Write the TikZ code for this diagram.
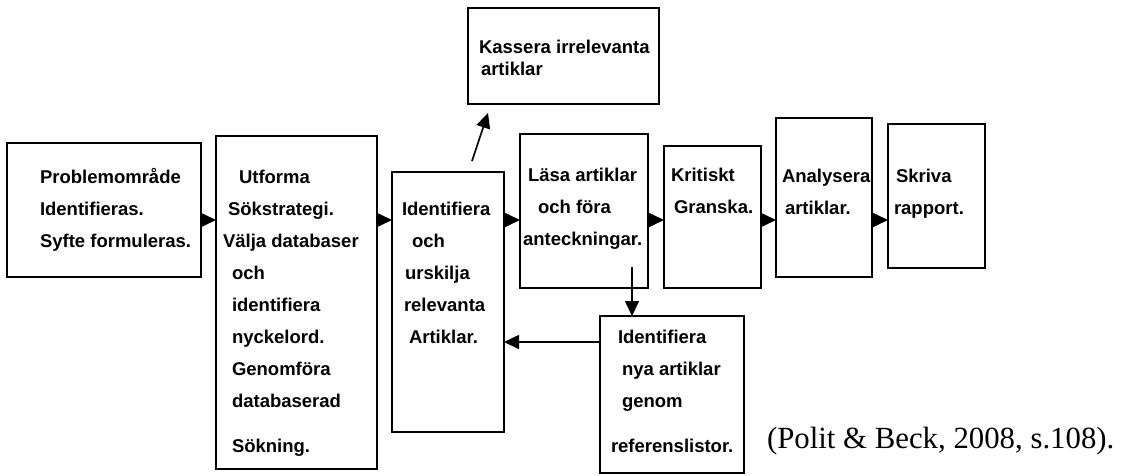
\documentclass[tikz,border=0pt]{standalone}
\usepackage{fontspec}
\setmainfont{Liberation Sans}
\newfontfamily\citefont{Liberation Serif}
\usepackage{tikz}
\usetikzlibrary {arrows.meta,
                 calc,
                 positioning}
\tikzset{
        base/.style={inner sep=0pt, outer sep=0pt},
        box/.style={base, draw, line width=1.6pt, anchor=north west},
        % texts are placed at the baseline of their last line
        txt/.style={base, align=left, anchor=base west,
                    font=\bfseries\fontsize{18.5}{32}\selectfont},
        cite/.style={base, anchor=base west,
                     font=\citefont\fontsize{30.8}{36}\selectfont},
        flowarrow/.style={-{Triangle[length=15pt, width=14pt]},
                          line width=1.6pt},
 }

\begin{document}
\begin{tikzpicture}[x=1pt, y=-1pt]
        \useasboundingbox (0,0) rectangle (1130,475);

        % boxes
        \node[box, minimum width=194pt, minimum height=134pt] (prob) at (7,143) {};
        \node[box, minimum width=161pt, minimum height=333pt] (strat) at (216,136) {};
        \node[box, minimum width=112pt, minimum height=260pt] (ident) at (392,172) {};
        \node[box, minimum width=191pt, minimum height=96pt] (kassera) at (468,8) {};
        \node[box, minimum width=128pt, minimum height=154pt] (lasa) at (520,134) {};
        \node[box, minimum width=97pt, minimum height=142pt] (krit) at (664,146) {};
        \node[box, minimum width=96pt, minimum height=159pt] (anal) at (776,118) {};
        \node[box, minimum width=97pt, minimum height=144pt] (skriva) at (888,124) {};
        \node[box, minimum width=144pt, minimum height=157pt] (nya) at (600,316) {};

        % texts
        \node[txt] (probtxt) at (40,247) {
              Problemområde\\Identifieras.\\Syfte formuleras.};
        \node[txt] (strattxt) at (223,452) {
              \hspace*{16pt}Utforma\\
              \hspace*{5pt}Sökstrategi.\\
              Välja databaser\\
              \hspace*{9pt}och\\
              \hspace*{9pt}identifiera\\
              \hspace*{9pt}nyckelord.\\
              \hspace*{9pt}Genomföra\\
              \hspace*{9pt}databaserad\\[13pt]
              \hspace*{9pt}Sökning.};
        \node[txt] (identtxt) at (402,343) {
              Identifiera\\
              \hspace*{10pt}och\\
              \hspace*{3pt}urskilja\\
              \hspace*{2pt}relevanta\\
              \hspace*{7pt}Artiklar.};
        \node[txt] (kasseratxt) at (479,75) {
              Kassera irrelevanta\\[-10pt]
              \hspace*{2pt}artiklar};
        \node[txt] (lasatxt) at (523,245) {
              \hspace*{5pt}Läsa artiklar\\
              \hspace*{15pt}och föra\\
              anteckningar.};
        \node[txt] (krittxt) at (671,213) {
              Kritiskt\\\hspace*{3pt}Granska.};
        \node[txt] (analtxt) at (782,214) {
              Analysera\\\hspace*{3pt}artiklar.};
        \node[txt] (skrivatxt) at (894,214) {
              \hspace*{2pt}Skriva\\rapport.};
        \node[txt] (nyatxt) at (611,452) {
              \hspace*{7pt}Identifiera\\
              \hspace*{11pt}nya artiklar\\
              \hspace*{11pt}genom\\[13pt]
              referenslistor.};

        \node[cite] (source) at (767,448) {(Polit \& Beck, 2008, s.108).};

        % connectors
        \coordinate (flowline) at (0,220);
        \coordinate (back) at (0,342);
        \coordinate (drop) at (632,267);

        \draw[flowarrow] (prob.east |- flowline) -- (strat.west |- flowline);
        \draw[flowarrow] (strat.east |- flowline) -- (ident.west |- flowline);
        \draw[flowarrow] (ident.east |- flowline) -- (lasa.west |- flowline);
        \draw[flowarrow] (lasa.east |- flowline) -- (krit.west |- flowline);
        \draw[flowarrow] (krit.east |- flowline) -- (anal.west |- flowline);
        \draw[flowarrow] (anal.east |- flowline) -- (skriva.west |- flowline);

        \draw[flowarrow] ($(ident.north)+(24,-11)$) -- ($(kassera.south)+(-75.5,9)$);
        \draw[flowarrow] (drop) -- (drop |- nya.north);
        \draw[flowarrow] (nya.west |- back) -- (ident.east |- back);

\end{tikzpicture}
\end{document}
